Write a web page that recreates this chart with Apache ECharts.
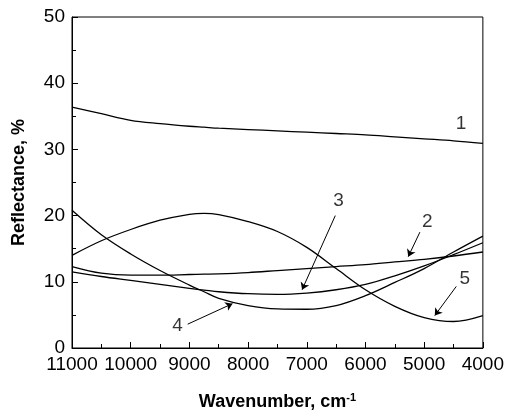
<!DOCTYPE html>
<html>
<head>
<meta charset="utf-8">
<script src="https://cdn.jsdelivr.net/npm/echarts@6/dist/echarts.min.js"></script>
<style>
	html, body { margin: 0; padding: 0; background: #fff; }
	#chart { width: 507px; height: 416px; }
</style>
</head>
<body>
<div id="chart"></div>
<script>
	// wavenumber grid (cm-1), read every 500 (+8750 for the peak of curve 5)
	const wavenumber = [11000, 10500, 10000, 9500, 9000, 8750, 8500, 8000, 7500, 7000, 6500, 6000, 5500, 5000, 4500, 4000];
	// reflectance, %
	const curve1 = [36.4, 35.4, 34.4, 33.9, 33.5, 33.35, 33.2, 33.0, 32.8, 32.6, 32.4, 32.2, 31.9, 31.6, 31.3, 30.9];
	const curve2 = [12.3, 11.3, 11.0, 11.0, 11.1, 11.15, 11.2, 11.4, 11.7, 12.0, 12.3, 12.6, 13.0, 13.4, 13.9, 14.5];
	const curve3 = [11.5, 10.8, 10.2, 9.6, 9.0, 8.75, 8.5, 8.2, 8.1, 8.3, 8.8, 9.6, 10.9, 12.4, 14.1, 15.9];
	const curve4 = [20.8, 17.1, 14.2, 11.7, 9.5, 8.5, 7.5, 6.4, 5.9, 5.85, 6.4, 7.9, 9.9, 12.0, 14.5, 16.9];
	const curve5 = [14.0, 16.2, 17.9, 19.3, 20.2, 20.35, 20.15, 19.1, 17.6, 15.2, 12.0, 8.8, 6.3, 4.6, 4.0, 4.9];

	const curveNames = ['1', '2', '3', '4', '5'];
	// where the numbers sit, [wavenumber, reflectance]
	const labelPos = [[4373, 33.8], [4949, 19.1], [6458, 22.2], [9203, 3.3], [4310, 10.5]];
	// arrows from number to curve
	const arrows = [
		[[5073, 17.5], [5271, 13.8]],
		[[6514, 20.0], [7080, 8.8]],
		[[9029, 3.6], [8266, 6.7]],
		[[4453, 9.3], [4819, 4.9]]
	];

	const font = "'Liberation Sans', Arial, sans-serif";
	const curves = [curve1, curve2, curve3, curve4, curve5];

	let series = curves.map((c, i) => ({
		name: curveNames[i],
		type: 'line',
		smooth: 0.35,
		symbol: 'none',
		silent: true,
		data: wavenumber.map((w, j) => [w, c[j]]),
		lineStyle: { color: '#000', width: 1.3 }
	}));

	series.push({
		type: 'scatter',
		symbolSize: 0.1,
		silent: true,
		itemStyle: { color: 'rgba(0,0,0,0)' },
		data: labelPos.map((p, i) => ({ value: p, label: { formatter: curveNames[i] } })),
		label: {
			show: true,
			position: 'inside',
			color: '#000',
			fontSize: 19,
			fontFamily: font
		},
		markLine: {
			silent: true,
			symbol: ['none', 'arrow'],
			symbolSize: 7,
			label: { show: false },
			lineStyle: { color: '#000', width: 1, type: 'solid' },
			data: arrows.map(a => [{ coord: a[0] }, { coord: a[1] }])
		}
	});

	let myChart = echarts.init(document.getElementById('chart'));
	myChart.setOption({
		animation: false,
		backgroundColor: '#fff',
		grid: {
			left: 72,
			right: 22,
			top: 17,
			bottom: 66,
			show: true,
			borderColor: '#000',
			borderWidth: 1
		},
		xAxis: {
			type: 'value',
			inverse: true,
			min: 4000,
			max: 11000,
			interval: 1000,
			name: 'Wavenumber, cm{sup|-1}',
			nameLocation: 'middle',
			nameGap: 44,
			nameTextStyle: {
				color: '#000',
				fontFamily: font,
				fontSize: 18,
				fontWeight: 'bold',
				rich: {
					sup: { fontSize: 11, fontWeight: 'bold', fontFamily: font, verticalAlign: 'top', padding: [0, 0, 9, 0] }
				}
			},
			axisLine: { show: true, onZero: false, lineStyle: { color: '#000', width: 1 } },
			axisTick: { show: true, inside: true, length: 6, lineStyle: { color: '#000' } },
			minorTick: { show: true, splitNumber: 2, length: 4, lineStyle: { color: '#000' } },
			axisLabel: {
				color: '#000', fontSize: 19, fontFamily: font, margin: 7,
				showMinLabel: true, showMaxLabel: true,
				formatter: v => String(v)
			},
			splitLine: { show: false }
		},
		yAxis: {
			type: 'value',
			min: 0,
			max: 50,
			interval: 10,
			name: 'Reflectance, %',
			nameLocation: 'middle',
			nameGap: 44,
			nameTextStyle: { color: '#000', fontFamily: font, fontSize: 18, fontWeight: 'bold' },
			axisLine: { show: true, onZero: false, lineStyle: { color: '#000', width: 1 } },
			axisTick: { show: true, inside: true, length: 6, lineStyle: { color: '#000' } },
			minorTick: { show: true, splitNumber: 2, length: 4, lineStyle: { color: '#000' } },
			axisLabel: { color: '#000', fontSize: 19, fontFamily: font, margin: 7 },
			splitLine: { show: false }
		},
		series: series
	});
</script>
</body>
</html>
